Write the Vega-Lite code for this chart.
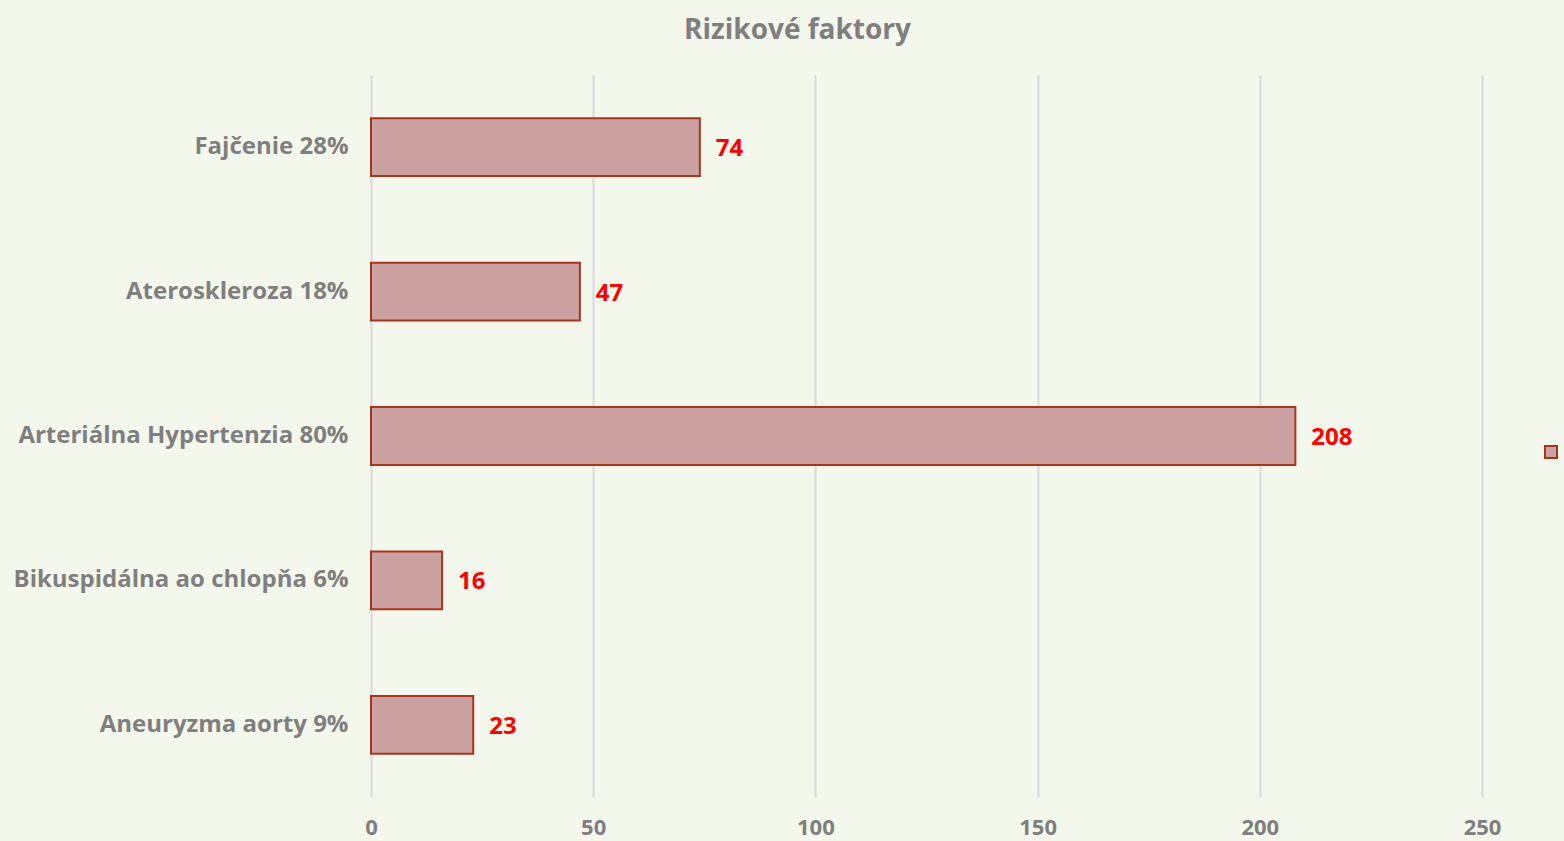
{
  "$schema": "https://vega.github.io/schema/vega-lite/v6.json",
  "autosize": {"type": "none"},
  "padding": {"left": 371, "top": 75, "right": 82, "bottom": 44},
  "width": 1111,
  "height": 722,
  "background": "#f4f7ec",
  "title": {
    "text": "Rizikové faktory",
    "anchor": "middle",
    "dx": -129,
    "offset": 30,
    "font": "Open Sans",
    "fontSize": 28,
    "fontWeight": "bold",
    "color": "#7f7f7f"
  },
  "data": {
    "values": [
      {"factor": "Fajčenie 28%", "count": 74, "series": " "},
      {"factor": "Ateroskleroza 18%", "count": 47, "series": " "},
      {"factor": "Arteriálna Hypertenzia 80%", "count": 208, "series": " "},
      {"factor": "Bikuspidálna ao chlopňa 6%", "count": 16, "series": " "},
      {"factor": "Aneuryzma aorty 9%", "count": 23, "series": " "}
    ]
  },
  "config": {
    "view": {"stroke": null},
    "axis": {"labelFont": "Open Sans", "labelFontWeight": "bold", "labelColor": "#7f7f7f"}
  },
  "encoding": {
    "y": {
      "field": "factor",
      "type": "nominal",
      "sort": null,
      "title": null,
      "scale": {"paddingInner": 0.6, "paddingOuter": 0.3},
      "axis": {"domain": false, "ticks": false, "grid": false, "labelFontSize": 24, "labelPadding": 23, "labelLimit": 400}
    },
    "x": {
      "field": "count",
      "type": "quantitative",
      "title": null,
      "scale": {"domain": [0, 250], "nice": false},
      "axis": {"values": [0, 50, 100, 150, 200, 250], "domain": false, "ticks": false, "grid": true, "gridColor": "#d9d9d9", "gridWidth": 2, "labelFontSize": 22, "labelPadding": 20, "labelFlush": false}
    }
  },
  "layer": [
    {
      "mark": {"type": "bar", "stroke": "#a8341e", "strokeWidth": 2},
      "encoding": {
        "color": {
          "field": "series",
          "type": "nominal",
          "scale": {"range": ["#cba2a1"]},
          "legend": {
            "title": null,
            "orient": "none",
            "legendX": 1173,
            "legendY": 370,
            "labelExpr": "''",
            "symbolType": "square",
            "symbolSize": 144,
            "symbolStrokeColor": "#a8341e",
            "symbolStrokeWidth": 2,
            "padding": 0
          }
        }
      }
    },
    {
      "mark": {"type": "text", "align": "left", "dx": 16, "dy": 2, "font": "Open Sans", "fontWeight": "bold", "fontSize": 24, "color": "#ff0000"},
      "encoding": {"text": {"field": "count", "type": "quantitative"}}
    }
  ]
}
